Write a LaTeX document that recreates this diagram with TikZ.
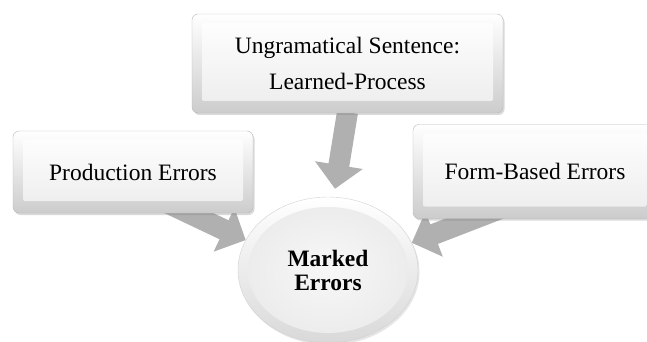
\documentclass[tikz,border=0pt]{standalone}
\usepackage{fontspec}
\setmainfont{Liberation Serif}
\usetikzlibrary{arrows.meta,shadows,backgrounds,shapes.geometric}

\tikzset{
  bevelbox/.style={rectangle, rounded corners=6pt, draw=gray!55,
    top color=white, bottom color=gray!40, inner sep=0pt, align=center,
    drop shadow={shadow xshift=1.5pt,shadow yshift=-2pt,opacity=.3},
    path picture={\shade[top color=white,bottom color=gray!15,rounded corners=2pt]
      ([shift={(10pt,-9pt)}]path picture bounding box.north west) rectangle
      ([shift={(-10pt,12pt)}]path picture bounding box.south east);},
    font=\fontsize{23.5}{36}\selectfont},
  roundbox/.style={ellipse, draw=gray!35, inner sep=0pt, align=center,
    top color=white, bottom color=gray!30,
    drop shadow={shadow xshift=1.5pt,shadow yshift=-2pt,opacity=.2},
    path picture={\shade[inner color=gray!6,outer color=gray!16]
      (path picture bounding box.center) ellipse (80pt and 63pt);},
    font=\fontsize{23.5}{24}\selectfont\bfseries},
  flowarrow/.style={draw=gray!62, line width=21pt,
    -{Triangle[width=47pt,length=24pt]}}
}

\begin{document}
\begin{tikzpicture}[x=1pt,y=-1pt]
  \useasboundingbox (0,0) rectangle (647,342);
  \clip (0,0) rectangle (647,342);
  % boxes
  \node[bevelbox, minimum width=311pt, minimum height=99pt] (ungram) at (347.5,63.5)
    {Ungramatical Sentence:\\Learned-Process};
  \node[bevelbox, minimum width=240pt, minimum height=82pt] (prod) at (133,172)
    {Production Errors};
  \node[bevelbox, minimum width=244pt, minimum height=94pt] (form) at (535,171.5)
    {Form-Based Errors};
  % centre
  \node[roundbox, minimum width=180pt, minimum height=146pt] (marked) at (328,270)
    {Marked\\Errors};
  % arrows behind
  \begin{scope}[on background layer]
    \draw[flowarrow] ([yshift=1pt]ungram.south) -- ([xshift=7pt,yshift=8pt]marked.north);
    \draw[flowarrow] ([xshift=35pt,yshift=10pt]prod.south) -- (marked.160);
    \draw[flowarrow] ([xshift=-35pt,yshift=10pt]form.south) -- (marked.18);
  \end{scope}
\end{tikzpicture}
\end{document}
